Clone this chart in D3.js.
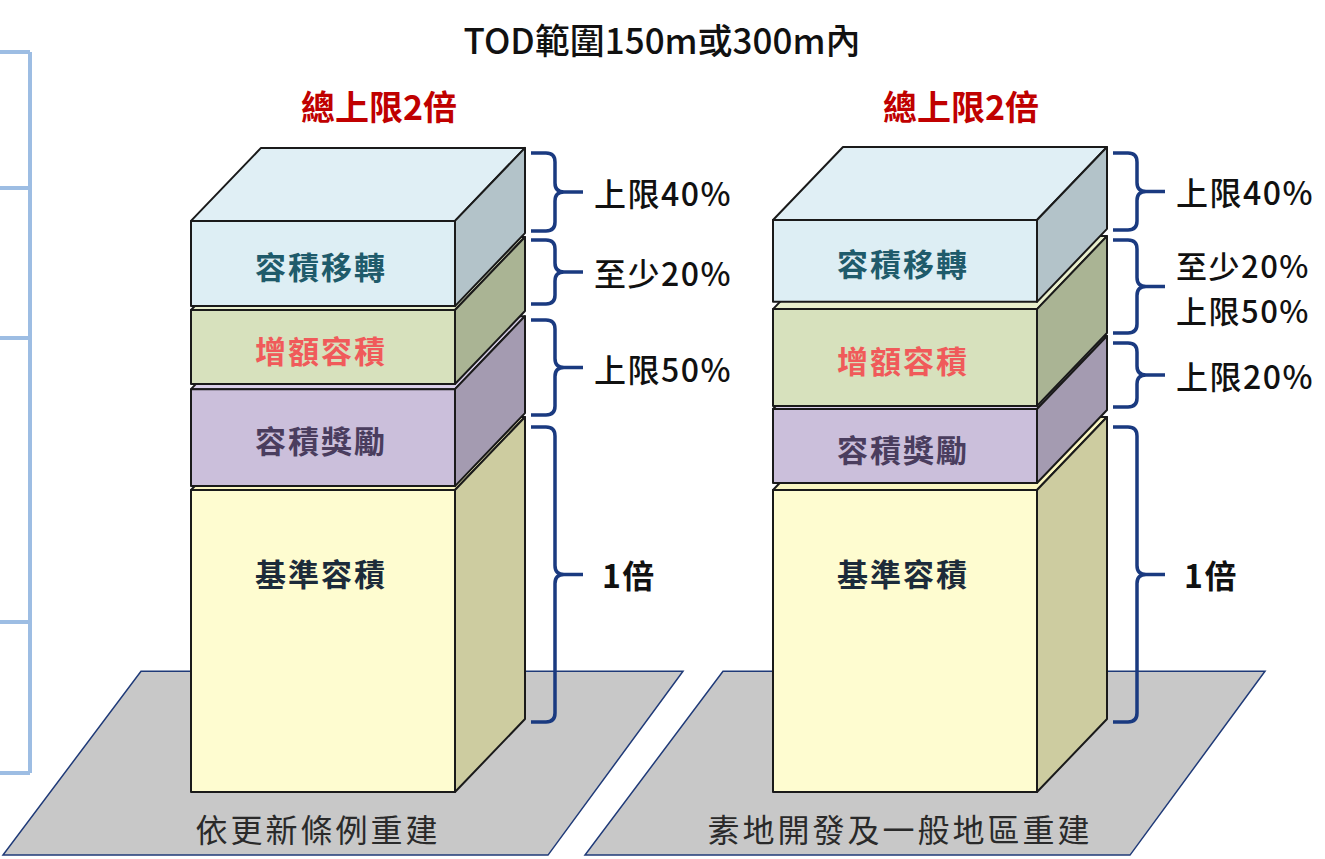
<!DOCTYPE html>
<html>
<head>
<meta charset="utf-8">
<script src="https://cdn.jsdelivr.net/npm/d3@7"></script>
<style>
  body { margin: 0; background: #fff; }
  svg { display: block; }
  text { font-family: "Noto Sans CJK TC", "Noto Sans", sans-serif; }
</style>
</head>
<body>
<div id="chart"></div>
<script>
// Scenarios (one stack each)
var scenarios = ["依更新條例重建", "素地開發及一般地區重建"];

// Layers, bottom to top
var layerNames = ["基準容積", "容積獎勵", "增額容積", "容積移轉"];
var layerText  = ["#1c2b3a", "#4a3d5e", "#f05a5a", "#1f5b6b"];

// Layer extents in multiples of the base floor area
var leftLow   = [0, 1.013, 1.351, 1.609];
var leftHigh  = [1, 1.334, 1.596, 1.891];
var rightLow  = [0, 1.023, 1.278, 1.623];
var rightHigh = [1, 1.268, 1.599, 1.894];

// Brackets at the side of each stack
var leftBraceLow    = [0.232, 1.248, 1.616, 1.858];
var leftBraceHigh   = [1.209, 1.563, 1.828, 2.116];
var leftBraceText   = [["1倍"], ["上限50%"], ["至少20%"], ["上限40%"]];
var rightBraceLow   = [0.232, 1.275, 1.520, 1.861];
var rightBraceHigh  = [1.209, 1.487, 1.828, 2.116];
var rightBraceText  = [["1倍"], ["上限20%"], ["至少20%", "上限50%"], ["上限40%"]];

var title = "TOD範圍150m或300m內";
var capText = "總上限2倍";

var W = 1325, H = 859;
var svg = d3.select("#chart").append("svg").attr("width", W).attr("height", H);

var x = d3.scaleBand().domain(scenarios).range([191, 1037]).paddingInner(0.5464).paddingOuter(0);
var y = d3.scaleLinear().domain([0, 1]).range([792, 490]);

var dx = 70, dy = -73;

// colours for each layer: front, side, top
var fronts = ["#fefcd0", "#cbbfdb", "#d7e1bd", "#ddeef4"];
var sides  = ["#cdcca0", "#a49bb1", "#aab494", "#b3c3c9"];
var tops   = ["#faf6c2", "#dad0ea", "#e9efcd", "#e0eff5"];

var stacks = [
  {name: scenarios[0], low: leftLow, high: leftHigh, bLow: leftBraceLow, bHigh: leftBraceHigh, bText: leftBraceText},
  {name: scenarios[1], low: rightLow, high: rightHigh, bLow: rightBraceLow, bHigh: rightBraceHigh, bText: rightBraceText}
];

// Left decorative frame (cut off at the page edge)
var frame = svg.append("g").attr("stroke", "#9dbde3").attr("stroke-width", 4).attr("fill", "none");
frame.append("line").attr("x1", 30).attr("x2", 30).attr("y1", 52).attr("y2", 773);
[52, 188, 338, 622, 773].forEach(function(v) {
  frame.append("line").attr("x1", 0).attr("x2", 30).attr("y1", v).attr("y2", v);
});

// Title
svg.append("text").attr("x", 662).attr("y", 38)
  .attr("text-anchor", "middle").attr("dominant-baseline", "central")
  .attr("font-size", 35).attr("font-weight", 500).attr("fill", "#111")
  .text(title);

function bracePath(x0, xs, xt, y0, y1) {
  var ym = (y0 + y1) / 2, r = 9;
  return "M" + x0 + "," + y0 + " L" + (xs - r) + "," + y0 +
    " Q" + xs + "," + y0 + " " + xs + "," + (y0 + r) +
    " L" + xs + "," + (ym - r) +
    " Q" + xs + "," + ym + " " + (xs + r) + "," + ym +
    " L" + xt + "," + ym +
    " M" + (xs + r) + "," + ym +
    " Q" + xs + "," + ym + " " + xs + "," + (ym + r) +
    " L" + xs + "," + (y1 - r) +
    " Q" + xs + "," + y1 + " " + (xs - r) + "," + y1 +
    " L" + x0 + "," + y1;
}

stacks.forEach(function(s) {
  var g = svg.append("g");
  var x0 = x(s.name), bw = x.bandwidth(), x1 = x0 + bw;

  // floor plate
  var fy0 = y(0.4), fy1 = y(-0.209);
  g.append("path")
    .attr("d", "M" + (x0 - 50) + "," + fy0 + " L" + (x0 + 492) + "," + fy0 +
               " L" + (x0 + 357) + "," + fy1 + " L" + (x0 - 188) + "," + fy1 + " Z")
    .attr("fill", "#c8c8c8").attr("stroke", "#1f3a78").attr("stroke-width", 1.5);

  // bottom label
  g.append("text").attr("x", x0 + 127).attr("y", 828)
    .attr("text-anchor", "middle").attr("dominant-baseline", "central")
    .attr("font-size", 32).attr("letter-spacing", 3).attr("fill", "#2a2a2a")
    .text(s.name);

  // blocks bottom to top
  layerNames.forEach(function(name, i) {
    var yt = y(s.high[i]), yb = y(s.low[i]);
    var b = g.append("g").attr("stroke", "#1a1a1a").attr("stroke-width", 2).attr("stroke-linejoin", "round");
    b.append("path")
      .attr("d", "M" + x0 + "," + yt + " L" + (x0 + dx) + "," + (yt + dy) + " L" + (x1 + dx) + "," + (yt + dy) + " L" + x1 + "," + yt + " Z")
      .attr("fill", tops[i]);
    b.append("path")
      .attr("d", "M" + x1 + "," + yt + " L" + (x1 + dx) + "," + (yt + dy) + " L" + (x1 + dx) + "," + (yb + dy) + " L" + x1 + "," + yb + " Z")
      .attr("fill", sides[i]);
    b.append("rect").attr("x", x0).attr("y", yt).attr("width", bw).attr("height", yb - yt)
      .attr("fill", fronts[i]);
    var ty = i === 0 ? yt + 82 : (yt + yb) / 2 + 2;
    g.append("text").attr("x", x0 + bw / 2 - 2).attr("y", ty)
      .attr("text-anchor", "middle").attr("dominant-baseline", "central")
      .attr("font-size", 31).attr("font-weight", 700).attr("letter-spacing", 2)
      .attr("fill", layerText[i])
      .text(name);
  });

  // total cap
  g.append("text").attr("x", x0 + 188).attr("y", 105)
    .attr("text-anchor", "middle").attr("dominant-baseline", "central")
    .attr("font-size", 34).attr("font-weight", 700).attr("fill", "#c00000")
    .text(capText);

  // brackets
  s.bLow.forEach(function(lo, i) {
    var ya = y(s.bHigh[i]), yb = y(lo), ym = (ya + yb) / 2;
    g.append("path").attr("d", bracePath(x1 + 76, x1 + 100, x1 + 128, ya, yb))
      .attr("fill", "none").attr("stroke", "#1a3a80").attr("stroke-width", 3.5);
    var lines = s.bText[i];
    var bold = lines[0] === "1倍";
    var lx = x1 + 139 + (bold ? 8 : 0);
    var lh = 45;
    var t = g.append("text")
      .attr("x", lx)
      .attr("y", ym - (lines.length - 1) / 2 * lh)
      .attr("dominant-baseline", "central")
      .attr("font-size", lines.length > 1 ? 31 : 32).attr("letter-spacing", 1.5)
      .attr("font-weight", bold ? 700 : 500)
      .attr("fill", "#111");
    lines.forEach(function(line, j) {
      t.append("tspan").attr("x", lx).attr("dy", j === 0 ? 0 : lh).text(line);
    });
  });
});
</script>
</body>
</html>
